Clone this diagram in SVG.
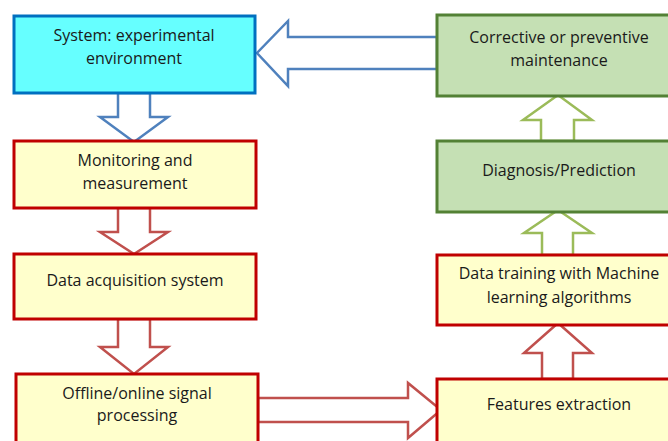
<svg xmlns="http://www.w3.org/2000/svg" width="668" height="441" viewBox="0 0 668 441">
<style>
text{font-family:"Open Sans","Liberation Sans",Arial,sans-serif;font-size:16px;fill:#1a1a1a;text-anchor:middle}
.blue{fill:#66FFFF;stroke:#0070C0;stroke-width:3}
.yel{fill:#FFFFCC;stroke:#C00000;stroke-width:3}
.grn{fill:#C5E0B4;stroke:#538135;stroke-width:3}
.ab{fill:#fff;stroke:#4F81BD;stroke-width:2.5}
.ar{fill:#fff;stroke:#C0504D;stroke-width:2.5}
.ag{fill:#fff;stroke:#9BBB59;stroke-width:2.5}
</style>
<rect width="668" height="441" fill="#fff"/>
<g id="connectors">
<polygon class="ab" points="118,93 150,93 150,117 168,117 134,142 100,117 118,117"/>
<polygon class="ar" points="118,208 150,208 150,232 168,232 134,254 100,232 118,232"/>
<polygon class="ar" points="118,319 150,319 150,347 168,347 134,374 100,347 118,347"/>
<polygon class="ar" points="258,398 408,398 408,383 441,410 408,438 408,422 258,422"/>
<polygon class="ar" points="542,379 542,353 524,353 558,323 592,353 573,353 573,379"/>
<polygon class="ag" points="542,255 542,233 524,233 558,210 592,233 573,233 573,255"/>
<polygon class="ag" points="541,141 541,120 523,120 558,95 592,120 574,120 574,141"/>
<polygon class="ab" points="437,37 288,37 288,21 257,53 288,86 288,69 437,69"/>
</g>
<g id="system">
<rect class="blue" x="14" y="16" width="241" height="77"/>
<text x="134" y="41">System: experimental</text>
<text x="134" y="64">environment</text>
</g>
<g id="monitoring">
<rect class="yel" x="14" y="141" width="242" height="67"/>
<text x="135" y="166">Monitoring and</text>
<text x="135" y="189">measurement</text>
</g>
<g id="daq">
<rect class="yel" x="14" y="254" width="242" height="65"/>
<text x="135" y="286">Data acquisition system</text>
</g>
<g id="signal">
<rect class="yel" x="16" y="374" width="242" height="80"/>
<text x="137" y="399">Offline/online signal</text>
<text x="137" y="421">processing</text>
</g>
<g id="features">
<rect class="yel" x="437" y="379" width="245" height="80"/>
<text x="559" y="410">Features extraction</text>
</g>
<g id="training">
<rect class="yel" x="437" y="255" width="245" height="70"/>
<text x="559" y="279">Data training with Machine</text>
<text x="559" y="303">learning algorithms</text>
</g>
<g id="diagnosis">
<rect class="grn" x="437" y="141" width="245" height="71"/>
<text x="559" y="176">Diagnosis/Prediction</text>
</g>
<g id="maintenance">
<rect class="grn" x="437" y="15" width="245" height="81"/>
<text x="559" y="43">Corrective or preventive</text>
<text x="559" y="66">maintenance</text>
</g>
</svg>
